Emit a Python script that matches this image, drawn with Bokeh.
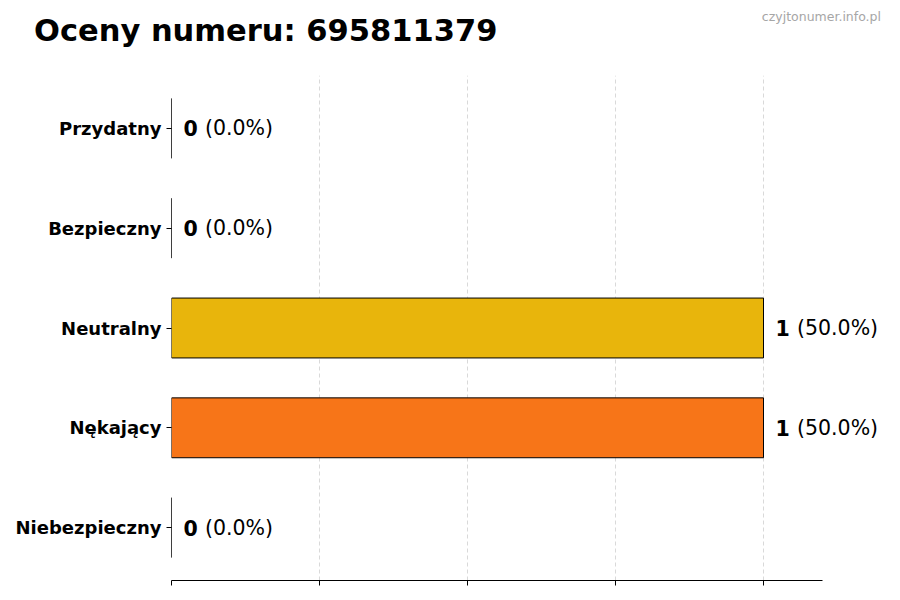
from bokeh.plotting import figure
from bokeh.layouts import column
from bokeh.models import ColumnDataSource, Range1d, FixedTicker, Div
from bokeh.core.properties import value
from bokeh.embed import file_html
from bokeh.resources import INLINE

categories = ["Niebezpieczny", "Nękający", "Neutralny", "Bezpieczny", "Przydatny"]
counts = [0, 1, 1, 0, 0]
percents = [0.0, 50.0, 50.0, 0.0, 0.0]
colors = ["#d62728", "#f77518", "#e8b50c", "#2ca02c", "#1f77b4"]
x_ticks = [0, 0.25, 0.5, 0.75, 1.0]
title_text = "Oceny numeru: 695811379"
watermark = "czyjtonumer.info.pl"

FONT = "DejaVu Sans"
W = 892
HEADER_H = 75

# ---------- header (title + watermark) ----------
hdr = Div(
    width=W, height=HEADER_H, margin=0,
    styles={"position": "relative", "overflow": "visible"},
    text=(
        '<div style="position:relative;width:%dpx;height:%dpx;">'
        '<span style="position:absolute;left:34px;top:15.5px;white-space:nowrap;'
        "font-family:'DejaVu Sans';font-weight:bold;font-size:30.5px;line-height:30.5px;"
        'color:black;">%s</span>'
        '<span style="position:absolute;right:11px;top:10.5px;white-space:nowrap;'
        "font-family:'DejaVu Sans';font-size:12.5px;line-height:12.5px;"
        'color:#a6a6a6;">%s</span>'
        '</div>'
    ) % (W, HEADER_H, title_text, watermark),
)

# ---------- main chart ----------
ypos = list(range(len(categories)))
src = ColumnDataSource(dict(
    y=ypos,
    count=counts,
    color=colors,
    num=[str(c) for c in counts],
    pct=["(%.1f%%)" % p for p in percents],
))

FRAME_W = W - 171
X_MAX = 1.1
x_end = FRAME_W / 592.0  # frame extends right so value labels are not clipped

p = figure(
    frame_width=FRAME_W, frame_height=505,
    min_border_left=171, min_border_right=0, min_border_top=0, min_border_bottom=8,
    x_range=Range1d(0, x_end), y_range=Range1d(-0.53, 4.53),
    output_backend="svg", toolbar_location=None,
)
p.title.visible = False
p.outline_line_color = None
p.background_fill_color = "white"
p.border_fill_color = "white"

# grid
p.ygrid.grid_line_color = None
p.xgrid.ticker = FixedTicker(ticks=x_ticks)
p.xgrid.grid_line_color = "#cfcfcf"
p.xgrid.grid_line_dash = "4 3"
p.xgrid.grid_line_width = 0.8

# x axis (ticks only, no labels as in the reference)
p.xaxis.ticker = FixedTicker(ticks=x_ticks)
p.xaxis.bounds = (0, X_MAX)
p.xaxis.major_label_text_font_size = "0px"
p.xaxis.major_label_text_color = None
p.xaxis.major_label_standoff = 0
p.xaxis.axis_line_color = "black"
p.xaxis.major_tick_out = 5
p.xaxis.major_tick_in = 0
p.xaxis.minor_tick_line_color = None

# y axis
p.yaxis.ticker = FixedTicker(ticks=ypos)
p.yaxis.major_label_overrides = {i: c for i, c in enumerate(categories)}
p.yaxis.axis_line_color = None
p.yaxis.major_tick_out = 5
p.yaxis.major_tick_in = 0
p.yaxis.minor_tick_line_color = None
p.yaxis.major_label_standoff = 5
p.yaxis.major_label_text_font = FONT
p.yaxis.major_label_text_font_style = "bold"
p.yaxis.major_label_text_font_size = "18px"
p.yaxis.major_label_text_color = "black"

p.hbar(y="y", left=0, right="count", height=0.6, source=src,
       fill_color="color", line_color="black", line_width=1)

p.text(x="count", y="y", text="num", source=src, x_offset=12,
       text_font=value(FONT), text_font_style="bold", text_font_size="20.5px",
       text_baseline="middle", text_align="left", text_color="black")
p.text(x="count", y="y", text="pct", source=src, x_offset=33.5,
       text_font=value(FONT), text_font_size="20.5px",
       text_baseline="middle", text_align="left", text_color="black")

layout = column(hdr, p, spacing=0)
open("out.html", "w").write(file_html(layout, INLINE))
